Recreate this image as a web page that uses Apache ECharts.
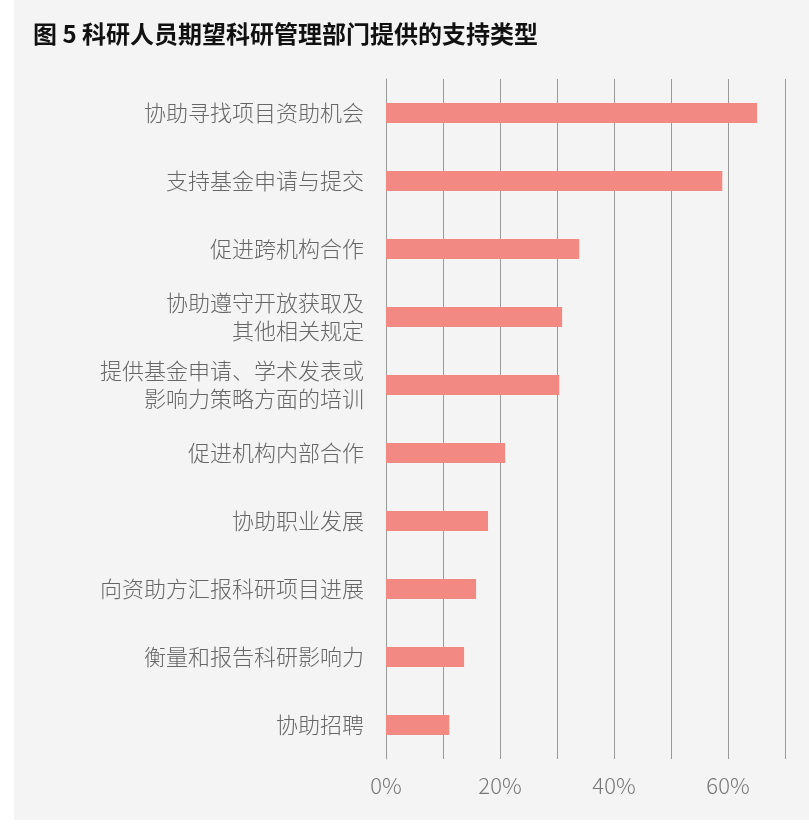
<!DOCTYPE html>
<html>
<head>
<meta charset="utf-8">
<script src="https://cdn.jsdelivr.net/npm/echarts@6/dist/echarts.min.js"></script>
<style>
  html, body { margin: 0; padding: 0; background: #fff; }
  #chart { width: 809px; height: 832px; }
</style>
</head>
<body>
<div id="chart"></div>
<script>
// 数据
var categories = ['协助寻找项目资助机会', '支持基金申请与提交', '促进跨机构合作', '协助遵守开放获取及\n其他相关规定',
    '提供基金申请、学术发表或\n影响力策略方面的培训', '促进机构内部合作', '协助职业发展', '向资助方汇报科研项目进展',
    '衡量和报告科研影响力', '协助招聘'];
var values = [65.1, 59, 33.9, 30.9, 30.4, 20.9, 17.9, 15.8, 13.7, 11.1];
var tickLabels = ['0%', '', '20%', '', '40%', '', '60%', ''];

var myChart = echarts.init(document.getElementById('chart'));
var option = {
    backgroundColor: '#fff',
    graphic: [{
        type: 'rect', z: -10, silent: true,
        shape: { x: 14, y: 0, width: 795, height: 820 },
        style: { fill: '#f4f4f4' }
    }],
    title: {
        text: '图 5 科研人员期望科研管理部门提供的支持类型',
        left: 28, top: 17,
        textStyle: { fontFamily: 'Noto Sans CJK SC', fontWeight: 'bold', fontSize: 24, color: '#111' }
    },
    grid: { left: 386, right: 24, top: 79, bottom: 73 },
    xAxis: {
        type: 'value', min: 0, max: 70, interval: 10,
        axisLine: { show: false }, axisTick: { show: false },
        splitLine: { show: true, lineStyle: { color: '#999', width: 1 } },
        axisLabel: {
            margin: 16, fontSize: 22, color: '#777', fontWeight: 300,
            fontFamily: 'Noto Sans CJK SC',
            formatter: function (v) { return tickLabels[Math.round(v / 10)] || ''; }
        }
    },
    yAxis: {
        type: 'category', data: categories, inverse: true,
        axisLine: { show: true, lineStyle: { color: '#999' } }, axisTick: { show: false },
        axisLabel: {
            margin: 22, fontSize: 22, color: '#666', fontWeight: 300, lineHeight: 28,
            fontFamily: 'Noto Sans CJK SC', align: 'right'
        }
    },
    series: [{
        type: 'bar', data: values, barWidth: 20,
        itemStyle: { color: '#f28983' }
    }]
};
myChart.setOption(option);
</script>
</body>
</html>
